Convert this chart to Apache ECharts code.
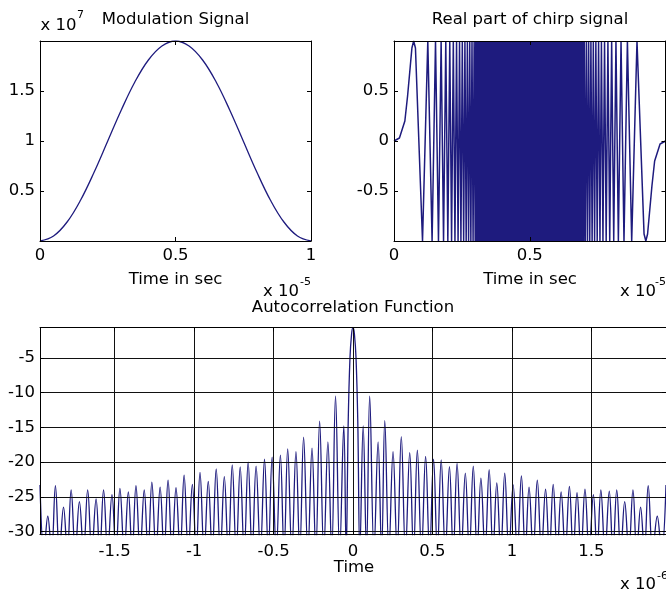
<!DOCTYPE html>
<html>
<head>
<meta charset="utf-8">
<script src="https://cdn.jsdelivr.net/npm/echarts@6/dist/echarts.min.js"></script>
<style>
  html, body { margin: 0; padding: 0; background: #fff; }
  #chart { width: 666px; height: 594px; }
</style>
</head>
<body>
<div id="chart"></div>
<script>
// ---- Modulation signal (time in units of 1e-5 s, amplitude in units of 1e7) ----
const modTime  = [0, 0.05, 0.10, 0.15, 0.20, 0.25, 0.30, 0.35, 0.40, 0.45, 0.50,
                  0.55, 0.60, 0.65, 0.70, 0.75, 0.80, 0.85, 0.90, 0.95, 1.00];
const modValue = [0, 0.05, 0.19, 0.41, 0.69, 1.00, 1.31, 1.59, 1.81, 1.95, 2.00,
                  1.95, 1.81, 1.59, 1.31, 1.00, 0.69, 0.41, 0.19, 0.05, 0];

// ---- Real part of the chirp: turning points (time in units of 1e-5 s) ----
const chirpTime = [
  0, 0.02, 0.04, 0.05, 0.06, 0.066,
  0.0724, 0.079, 0.1050, 0.1245, 0.1403, 0.1529, 0.1638, 0.1736, 0.1825, 0.1907, 0.1983,
  0.2054, 0.2121, 0.2185, 0.2245, 0.2304, 0.2360, 0.2414, 0.2465, 0.2516, 0.2565,
  0.2612, 0.2658, 0.2703, 0.2747, 0.2790, 0.2831, 0.2873, 0.2913, 0.2952, 0.2991,
  0.301, 0.303, 0.305, 0.307, 0.309, 0.311, 0.313, 0.315, 0.317, 0.319,
  0.321, 0.323, 0.325, 0.327, 0.329, 0.331, 0.333, 0.335, 0.337, 0.339,
  0.341, 0.343, 0.345, 0.347, 0.349, 0.351, 0.353, 0.355, 0.357, 0.359,
  0.361, 0.363, 0.365, 0.367, 0.369, 0.371, 0.373, 0.375, 0.377, 0.379,
  0.381, 0.383, 0.385, 0.387, 0.389, 0.391, 0.393, 0.395, 0.397, 0.399,
  0.401, 0.403, 0.405, 0.407, 0.409, 0.411, 0.413, 0.415, 0.417, 0.419,
  0.421, 0.423, 0.425, 0.427, 0.429, 0.431, 0.433, 0.435, 0.437, 0.439,
  0.441, 0.443, 0.445, 0.447, 0.449, 0.451, 0.453, 0.455, 0.457, 0.459,
  0.461, 0.463, 0.465, 0.467, 0.469, 0.471, 0.473, 0.475, 0.477, 0.479,
  0.481, 0.483, 0.485, 0.487, 0.489, 0.491, 0.493, 0.495, 0.497, 0.499,
  0.501, 0.503, 0.505, 0.507, 0.509, 0.511, 0.513, 0.515, 0.517, 0.519,
  0.521, 0.523, 0.525, 0.527, 0.529, 0.531, 0.533, 0.535, 0.537, 0.539,
  0.541, 0.543, 0.545, 0.547, 0.549, 0.551, 0.553, 0.555, 0.557, 0.559,
  0.561, 0.563, 0.565, 0.567, 0.569, 0.571, 0.573, 0.575, 0.577, 0.579,
  0.581, 0.583, 0.585, 0.587, 0.589, 0.591, 0.593, 0.595, 0.597, 0.599,
  0.601, 0.603, 0.605, 0.607, 0.609, 0.611, 0.613, 0.615, 0.617, 0.619,
  0.621, 0.623, 0.625, 0.627, 0.629, 0.631, 0.633, 0.635, 0.637, 0.639,
  0.641, 0.643, 0.645, 0.647, 0.649, 0.651, 0.653, 0.655, 0.657, 0.659,
  0.661, 0.663, 0.665, 0.667, 0.669, 0.671, 0.673, 0.675, 0.677, 0.679,
  0.681, 0.683, 0.685, 0.687, 0.689, 0.691, 0.693, 0.695, 0.697, 0.699,
  0.7009, 0.7048, 0.7087, 0.7127, 0.7169, 0.7210, 0.7253, 0.7297, 0.7342, 0.7388,
  0.7435, 0.7484, 0.7535, 0.7586, 0.7640, 0.7696, 0.7755, 0.7815, 0.7879, 0.7946,
  0.8017, 0.8093, 0.8175, 0.8264, 0.8362, 0.8471, 0.8597, 0.8755, 0.8950, 0.921, 0.9276,
  0.934, 0.94, 0.95, 0.96, 0.98, 1.00
];
const chirpValue = [
  0, 0.03, 0.2, 0.45, 0.75, 0.93,
  1, 0.93, -1, 1, -1, 1, -1, 1, -1, 1, -1,
  1, -1, 1, -1, 1, -1, 1, -1, 1, -1,
  1, -1, 1, -1, 1, -1, 1, -1, 1, -1,
  1, -1, 1, -1, 1, -1, 1, -1, 1, -1,
  1, -1, 1, -1, 1, -1, 1, -1, 1, -1,
  1, -1, 1, -1, 1, -1, 1, -1, 1, -1,
  1, -1, 1, -1, 1, -1, 1, -1, 1, -1,
  1, -1, 1, -1, 1, -1, 1, -1, 1, -1,
  1, -1, 1, -1, 1, -1, 1, -1, 1, -1,
  1, -1, 1, -1, 1, -1, 1, -1, 1, -1,
  1, -1, 1, -1, 1, -1, 1, -1, 1, -1,
  1, -1, 1, -1, 1, -1, 1, -1, 1, -1,
  1, -1, 1, -1, 1, -1, 1, -1, 1, -1,
  1, -1, 1, -1, 1, -1, 1, -1, 1, -1,
  1, -1, 1, -1, 1, -1, 1, -1, 1, -1,
  1, -1, 1, -1, 1, -1, 1, -1, 1, -1,
  1, -1, 1, -1, 1, -1, 1, -1, 1, -1,
  1, -1, 1, -1, 1, -1, 1, -1, 1, -1,
  1, -1, 1, -1, 1, -1, 1, -1, 1, -1,
  1, -1, 1, -1, 1, -1, 1, -1, 1, -1,
  1, -1, 1, -1, 1, -1, 1, -1, 1, -1,
  1, -1, 1, -1, 1, -1, 1, -1, 1, -1,
  1, -1, 1, -1, 1, -1, 1, -1, 1, -1,
  1, -1, 1, -1, 1, -1, 1, -1, 1, -1,
  1, -1, 1, -1, 1, -1, 1, -1, 1, -1,
  1, -1, 1, -1, 1, -1, 1, -1, 1, -0.93, -1,
  -0.93, -0.75, -0.45, -0.2, -0.03, 0
];

// ---- Autocorrelation (time in units of 1e-6 s, level in dB); -33 marks the nulls ----
const acTime = [
  -1.970, -1.945, -1.921, -1.897, -1.873, -1.848, -1.822, -1.798, -1.774, -1.748,
  -1.722, -1.696, -1.670, -1.644, -1.617, -1.594, -1.570, -1.544, -1.517, -1.492,
  -1.467, -1.440, -1.414, -1.390, -1.366, -1.340, -1.314, -1.290, -1.266, -1.240,
  -1.214, -1.189, -1.164, -1.139, -1.114, -1.088, -1.063, -1.037, -1.011, -0.987,
  -0.963, -0.937, -0.911, -0.886, -0.861, -0.835, -0.810, -0.785, -0.760, -0.735,
  -0.710, -0.685, -0.660, -0.635, -0.610, -0.583, -0.557, -0.533, -0.509, -0.483,
  -0.457, -0.434, -0.411, -0.385, -0.359, -0.335, -0.311, -0.284, -0.258, -0.234,
  -0.210, -0.184, -0.158, -0.134, -0.110, -0.084, -0.058, -0.043,
  -0.030, -0.019, -0.009, 0, 0.009, 0.019, 0.030,
  0.043, 0.064, 0.085, 0.105, 0.132, 0.158, 0.180, 0.200, 0.226, 0.252,
  0.278, 0.304, 0.330, 0.357, 0.381, 0.405, 0.431, 0.457, 0.482, 0.507,
  0.531, 0.555, 0.581, 0.607, 0.631, 0.655, 0.681, 0.707, 0.732, 0.757,
  0.781, 0.805, 0.831, 0.857, 0.881, 0.905, 0.930, 0.955, 0.981, 1.008,
  1.034, 1.060, 1.084, 1.108, 1.134, 1.160, 1.186, 1.212, 1.236, 1.260,
  1.285, 1.310, 1.336, 1.362, 1.386, 1.410, 1.435, 1.460, 1.486, 1.513,
  1.536, 1.560, 1.586, 1.613, 1.636, 1.660, 1.685, 1.710, 1.736, 1.762,
  1.786, 1.810, 1.834, 1.858, 1.886, 1.915, 1.942, 1.970
];
const acDb = [
  -23.3, -33, -27.8, -33, -23.4, -33, -26.5, -33, -24.0, -33,
  -25.7, -33, -24.0, -33, -25.3, -33, -24.0, -33, -24.7, -33,
  -23.8, -33, -24.3, -33, -23.4, -33, -24.0, -33, -22.9, -33,
  -23.6, -33, -22.6, -33, -23.7, -33, -21.9, -33, -23.2, -33,
  -21.5, -33, -22.8, -33, -21.0, -33, -22.1, -33, -20.4, -33,
  -20.7, -33, -20.0, -33, -20.6, -33, -19.6, -33, -19.3, -33,
  -19.0, -33, -18.1, -33, -18.5, -33, -16.4, -33, -18.0, -33,
  -14.1, -33, -17.1, -33, -10.5, -33, -14.8, -33,
  -14.0, -5.0, -1.6, -0.63, -1.6, -5.0, -14.0,
  -33, -14.8, -33, -10.5, -33, -17.1, -33, -14.05, -33, -18.5,
  -33, -16.35, -33, -18.65, -33, -18.3, -33, -19.2, -33, -19.6,
  -33, -19.7, -33, -20.65, -33, -20.2, -33, -21.6, -33, -20.6,
  -33, -22.3, -33, -21.1, -33, -23.0, -33, -21.6, -33, -23.3,
  -33, -22.0, -33, -23.6, -33, -22.6, -33, -23.9, -33, -23.2,
  -33, -24.3, -33, -23.5, -33, -24.4, -33, -23.9, -33, -24.7,
  -33, -24.0, -33, -24.2, -33, -24.0, -33, -25.7, -33, -24.0,
  -33, -26.5, -33, -23.4, -33, -27.8, -33, -23.3
];

// ---- Tick positions ----
const timeTicks       = [0, 0.5, 1];
const chirpTimeLabels = [0, 0.5];
const modTicks        = [0.5, 1, 1.5];
const chirpTicks      = [-0.5, 0, 0.5];
const lagTicks        = [-1.5, -1, -0.5, 0, 0.5, 1, 1.5];
const dbTicks         = [-30, -25, -20, -15, -10, -5];

const FONT = 'DejaVu Sans';
const FS = 16.5;
const INK = '#000';
const LINE = '#1e1b7e';

const zip = (a, b) => a.map((v, i) => [v, b[i]]);

function frameAxis(grid, pos, min, max, ticks, labels, margin, split) {
  return {
    type: 'value', gridIndex: grid, position: pos, min: min, max: max,
    axisLine: { show: true, onZero: false, lineStyle: { color: INK, width: 1 } },
    axisTick: { show: true, inside: true, length: 4, customValues: ticks,
                lineStyle: { color: INK, width: 1 } },
    axisLabel: { show: !!labels, customValues: labels || ticks, margin: margin || 5,
                 color: INK, fontFamily: FONT, fontSize: FS,
                 showMinLabel: true, showMaxLabel: true },
    splitLine: { show: !!split, lineStyle: { color: '#111', width: 1 } },
    z: 5
  };
}

const chart = echarts.init(document.getElementById('chart'), null, { renderer: 'canvas' });

const grids = [
  { left: 40,  top: 41,    width: 271,   height: 200 },
  { left: 394, top: 41,    width: 271.5, height: 200 },
  { left: 40,  top: 327.5, width: 628,   height: 207 }
];

const txt = (text, x, y, align, size) => ({
  type: 'text', x: x, y: y, silent: true,
  style: { text: text, fill: INK, fontFamily: FONT, fontSize: size || FS,
           textAlign: align || 'center', textVerticalAlign: 'middle' }
});

chart.setOption({
  animation: false,
  backgroundColor: '#fff',
  grid: grids,
  xAxis: [
    frameAxis(0, 'bottom', 0, 1, timeTicks, timeTicks, 6),
    frameAxis(0, 'top', 0, 1, timeTicks),
    frameAxis(1, 'bottom', 0, 1, timeTicks, chirpTimeLabels, 6),
    frameAxis(1, 'top', 0, 1, timeTicks),
    frameAxis(2, 'bottom', -1.97, 1.97, lagTicks, lagTicks, 9, true),
    frameAxis(2, 'top', -1.97, 1.97, lagTicks)
  ],
  yAxis: [
    frameAxis(0, 'left', 0, 2, modTicks, modTicks, 5),
    frameAxis(0, 'right', 0, 2, modTicks),
    frameAxis(1, 'left', -1, 1, chirpTicks, chirpTicks, 5),
    frameAxis(1, 'right', -1, 1, chirpTicks),
    frameAxis(2, 'left', -30.43, -0.63, dbTicks, dbTicks, 5, true),
    frameAxis(2, 'right', -30.43, -0.63, dbTicks)
  ],
  series: [
    { type: 'line', xAxisIndex: 0, yAxisIndex: 0, data: zip(modTime, modValue),
      showSymbol: false, smooth: 0.4, lineStyle: { color: LINE, width: 1.3 }, z: 3 },
    { type: 'line', xAxisIndex: 2, yAxisIndex: 2, data: zip(chirpTime, chirpValue),
      showSymbol: false, smooth: false, lineStyle: { color: LINE, width: 1.5 }, z: 3 },
    { type: 'line', xAxisIndex: 4, yAxisIndex: 4, data: zip(acTime, acDb),
      showSymbol: false, smooth: 0.4, lineStyle: { color: LINE, width: 1.3 }, z: 3 }
  ],
  graphic: [
    txt('Modulation Signal', 175.5, 20),
    txt('Real part of chirp signal', 530, 20),
    txt('Autocorrelation Function', 353, 308),
    txt('x 10', 40.5, 26, 'left'),
    txt('7', 77, 15, 'left', 11),
    txt('Time in sec', 175.5, 280),
    txt('Time in sec', 530, 280),
    txt('x 10', 263, 291.5, 'left'),
    txt('-5', 300, 282, 'left', 11),
    txt('x 10', 620, 291.5, 'left'),
    txt('-5', 655, 282, 'left', 11),
    txt('Time', 354, 568),
    txt('x 10', 620, 585, 'left'),
    txt('-6', 657, 576, 'left', 11)
  ]
});
</script>
</body>
</html>
